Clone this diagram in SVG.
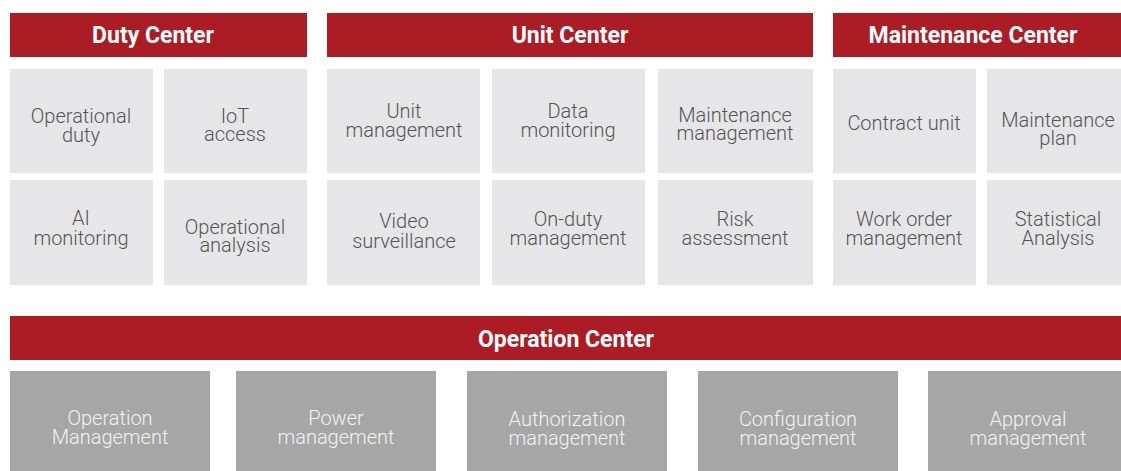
<svg xmlns="http://www.w3.org/2000/svg" width="1121" height="471" viewBox="0 0 1121 471">
<style>
.hdr{fill:#ab1c24}
.hd{font-family:Roboto,"Liberation Sans",sans-serif;font-weight:700;font-size:23px;fill:#ffffff;text-anchor:middle}
.lb{fill:#e6e6e8}
.lt{font-family:Roboto,"Liberation Sans",sans-serif;font-weight:300;font-size:20px;fill:#555555;text-anchor:middle}
.db{fill:#a6a6a6}
.dt{font-family:Roboto,"Liberation Sans",sans-serif;font-weight:300;font-size:20px;fill:#f2f2f2;text-anchor:middle}
</style>
<rect width="1121" height="471" fill="#ffffff"/>
<g id="duty-center">
<rect class="hdr" x="10" y="13" width="297" height="44"/>
<text class="hd" x="153" y="43">Duty Center</text>
</g>
<g id="unit-center">
<rect class="hdr" x="327" y="13" width="486" height="44"/>
<text class="hd" x="570" y="43">Unit Center</text>
</g>
<g id="maintenance-center">
<rect class="hdr" x="833" y="13" width="288" height="44"/>
<text class="hd" x="973" y="43">Maintenance Center</text>
</g>
<g id="operational-duty"><rect class="lb" x="10" y="69" width="143" height="104"/><text class="lt" x="81" y="123">Operational</text><text class="lt" x="81" y="142">duty</text></g>
<g id="iot-access"><rect class="lb" x="164" y="69" width="143" height="104"/><text class="lt" x="235" y="123">IoT</text><text class="lt" x="235" y="141">access</text></g>
<g id="unit-management"><rect class="lb" x="327" y="69" width="153" height="104"/><text class="lt" x="404" y="118">Unit</text><text class="lt" x="404" y="137">management</text></g>
<g id="data-monitoring"><rect class="lb" x="492" y="69" width="153" height="104"/><text class="lt" x="568" y="118">Data</text><text class="lt" x="568" y="137">monitoring</text></g>
<g id="maintenance-management"><rect class="lb" x="658" y="69" width="155" height="104"/><text class="lt" x="735" y="122">Maintenance</text><text class="lt" x="735" y="140">management</text></g>
<g id="contract-unit"><rect class="lb" x="833" y="69" width="143" height="104"/><text class="lt" x="904" y="130">Contract unit</text></g>
<g id="maintenance-plan"><rect class="lb" x="987" y="69" width="134" height="104"/><text class="lt" x="1058" y="127">Maintenance</text><text class="lt" x="1058" y="145">plan</text></g>
<g id="ai-monitoring"><rect class="lb" x="10" y="180" width="143" height="105"/><text class="lt" x="81" y="225">AI</text><text class="lt" x="81" y="245">monitoring</text></g>
<g id="operational-analysis"><rect class="lb" x="164" y="180" width="143" height="105"/><text class="lt" x="235" y="234">Operational</text><text class="lt" x="235" y="252">analysis</text></g>
<g id="video-surveillance"><rect class="lb" x="327" y="180" width="153" height="105"/><text class="lt" x="404" y="228">Video</text><text class="lt" x="404" y="248">surveillance</text></g>
<g id="on-duty-management"><rect class="lb" x="492" y="180" width="153" height="105"/><text class="lt" x="568" y="226">On-duty</text><text class="lt" x="568" y="245">management</text></g>
<g id="risk-assessment"><rect class="lb" x="658" y="180" width="155" height="105"/><text class="lt" x="735" y="226">Risk</text><text class="lt" x="735" y="245">assessment</text></g>
<g id="work-order-management"><rect class="lb" x="833" y="180" width="143" height="105"/><text class="lt" x="904" y="226">Work order</text><text class="lt" x="904" y="245">management</text></g>
<g id="statistical-analysis"><rect class="lb" x="987" y="180" width="134" height="105"/><text class="lt" x="1058" y="226">Statistical</text><text class="lt" x="1058" y="245">Analysis</text></g>
<g id="operation-center">
<rect class="hdr" x="10" y="316" width="1111" height="44"/>
<text class="hd" x="566" y="347">Operation Center</text>
</g>
<g id="operation-management"><rect class="db" x="10" y="371" width="200" height="100"/><text class="dt" x="110" y="425">Operation</text><text class="dt" x="110" y="444">Management</text></g>
<g id="power-management"><rect class="db" x="236" y="371" width="200" height="100"/><text class="dt" x="336" y="425">Power</text><text class="dt" x="336" y="444">management</text></g>
<g id="authorization-management"><rect class="db" x="467" y="371" width="200" height="100"/><text class="dt" x="567" y="426">Authorization</text><text class="dt" x="567" y="445">management</text></g>
<g id="configuration-management"><rect class="db" x="698" y="371" width="200" height="100"/><text class="dt" x="798" y="426">Configuration</text><text class="dt" x="798" y="445">management</text></g>
<g id="approval-management"><rect class="db" x="928" y="371" width="193" height="100"/><text class="dt" x="1028" y="426">Approval</text><text class="dt" x="1028" y="445">management</text></g>
<g id="connectors"></g>
</svg>
